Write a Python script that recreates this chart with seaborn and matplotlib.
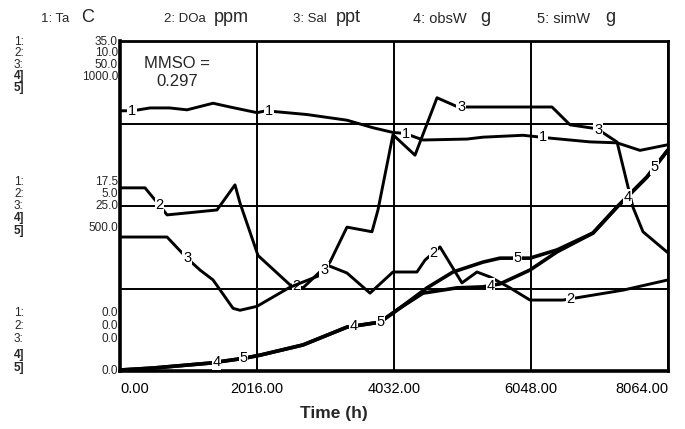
import numpy as np
import pandas as pd
import matplotlib
matplotlib.use("Agg")
import matplotlib.pyplot as plt
import seaborn as sns

# ---------------- data ----------------
ta_time = [0, 190, 441, 730, 986, 1369, 1619, 2016, 2148, 2752, 3340, 3723, 4017,
           4194, 4459, 5106, 5342, 5930, 6328, 6916, 7314, 7652, 8064]
ta_vals = [27.6, 27.6, 27.9, 27.9, 27.7, 28.4, 28.0, 27.4, 27.6, 27.2, 26.6, 25.8, 25.3,
           25.2, 24.5, 24.6, 24.8, 25.0, 24.7, 24.3, 24.2, 23.4, 24.0]

do_time = [0, 368, 589, 692, 986, 1427, 1692, 1766, 2031, 2502, 2693, 3046, 3340, 3679,
           4017, 4370, 4488, 4709, 5032, 5253, 5445, 5739, 6033, 6519, 7402, 8064]
do_vals = [5.55, 5.55, 5.0, 4.73, 4.79, 4.88, 5.64, 5.09, 3.5, 2.61, 2.52, 3.21, 2.97, 2.36,
           3.0, 3.0, 3.36, 3.76, 2.67, 3.0, 2.85, 2.52, 2.15, 2.15, 2.45, 2.76]

sal_time = [0, 692, 986, 1177, 1369, 1663, 1766, 2016, 2502, 2943, 3090, 3340, 3708,
            3796, 4017, 4341, 4665, 4974, 6357, 6622, 7019, 7314, 7549, 7696, 8064]
sal_vals = [20.3, 20.3, 17.1, 15.3, 13.8, 9.5, 9.2, 9.8, 12.7, 14.5, 16.5, 21.8, 21.1,
            24.4, 35.8, 32.7, 41.4, 40.0, 40.0, 37.3, 36.7, 34.7, 24.8, 21.1, 17.9]

obs_time = [0, 486, 1324, 1839, 2060, 2693, 3340, 3826, 4120, 4459, 4959, 5342, 5592,
            6033, 6431, 6960, 7314, 7755, 8064]
obs_vals = [3, 9, 24, 39, 48, 79, 133, 148, 191, 236, 252, 255, 264,
            306, 361, 418, 497, 588, 670]

sim_time = [0, 486, 1324, 1839, 2060, 2693, 3340, 3826, 4120, 4518, 4900, 5342, 5592,
            6033, 6431, 6960, 7314, 7755, 8064]
sim_vals = [3, 9, 24, 39, 48, 79, 133, 148, 191, 252, 300, 330, 342,
            342, 367, 418, 497, 588, 670]

series_names = ["Ta", "DOa", "Sal", "obsW", "simW"]
series_units = ["C", "ppm", "ppt", "g", "g"]
scale_max = [35.0, 10.0, 50.0, 1000.0, 1000.0]
x_ticks = [0, 2016, 4032, 6048, 8064]
x_tick_labels = ["0.00", "2016.00", "4032.00", "6048.00", "8064.00"]
mmso_text = "MMSO =\n0.297"
x_title = "Time (h)"

# ---------------- style ----------------
sns.set_theme(style="white")
plt.rcParams["font.family"] = ["Liberation Sans", "DejaVu Sans"]

W, H = 685, 429
fig = plt.figure(figsize=(W / 100, H / 100), dpi=100)
L, R, T, B = 120, 668, 41, 371
ax = fig.add_axes([L / W, 1 - B / H, (R - L) / W, (B - T) / H])

def fx(px):
    return px / W

def fy(py):
    return 1 - py / H

# base axis (scale of series 1) with grid
ax.set_xlim(0, 8064)
ax.set_ylim(0, scale_max[0])
ax.set_xticks(x_ticks)
ax.set_xticklabels(x_tick_labels, fontsize=10.5)
labs = ax.get_xticklabels()
labs[0].set_horizontalalignment("left")
labs[-1].set_horizontalalignment("right")
ax.set_yticks(np.linspace(0, scale_max[0], 5))
ax.set_yticklabels([])
ax.tick_params(axis="y", length=0)
ax.tick_params(axis="x", direction="inout", length=6, width=1.5, color="black",
               pad=5, labelcolor="black")
ax.grid(True, color="black", lw=1.4)
for side, lw in (("left", 2.6), ("bottom", 2.6), ("top", 2.0), ("right", 2.0)):
    ax.spines[side].set_visible(True)
    ax.spines[side].set_color("black")
    ax.spines[side].set_linewidth(lw)

# one set of y axes per scale (series 4 and 5 share one)
ax_do = ax.twinx()
ax_sal = ax.twinx()
ax_w = ax.twinx()
axes_list = [ax, ax_do, ax_sal, ax_w, ax_w]
for a, m in ((ax_do, scale_max[1]), (ax_sal, scale_max[2]), (ax_w, scale_max[3])):
    a.set_ylim(0, m)
    a.set_xlim(0, 8064)
    a.set_axis_off()

data_list = [(ta_time, ta_vals), (do_time, do_vals), (sal_time, sal_vals),
             (obs_time, obs_vals), (sim_time, sim_vals)]
line_w = [2.1, 2.1, 2.1, 2.6, 2.6]
for i, ((tt, vv), a) in enumerate(zip(data_list, axes_list)):
    df = pd.DataFrame({"time": tt, "value": vv})
    sns.lineplot(data=df, x="time", y="value", ax=a, color="black", lw=line_w[i],
                 sort=False, estimator=None, legend=False)
    a.set_xlabel("")
    a.set_ylabel("")

ax.set_xlabel(x_title, fontsize=12.5, fontweight="bold")
ax.xaxis.set_label_coords((334 - L) / (R - L), -0.105)
ax.set_ylabel("")

# numbered labels along each line (STELLA style)
label_offsets = [175, 580, 990, 1420, 1820]
for i, ((tt, vv), a) in enumerate(zip(data_list, axes_list)):
    for q in range(4):
        t = q * 2016 + label_offsets[i]
        v = np.interp(t, tt, vv)
        a.text(t, v, str(i + 1), ha="center", va="center", fontsize=10.5, color="black",
               bbox=dict(boxstyle="square,pad=0.05", fc="white", ec="none"), zorder=6)

# MMSO annotation
ax.text((177 - L) / (R - L), (B - 73) / (B - T), mmso_text, transform=ax.transAxes,
        ha="center", va="center", fontsize=12, linespacing=1.25)

# header legend
head_x = [41, 164, 293, 413, 537]
unit_x = [81, 214, 336, 480, 605]
for i in range(5):
    small = 9.5 if i < 3 else 10.5
    fig.text(fx(head_x[i]), fy(19), f"{i + 1}: {series_names[i]}", fontsize=small,
             ha="left", va="center")
    fig.text(fx(unit_x[i]), fy(17), series_units[i], fontsize=13, ha="left", va="center")

# left scale labels
def fmt(v):
    return f"{v:.1f}"

groups = [
    # (row y positions for 1..5, fraction of scale, value y positions)
    ([42, 53.5, 65, 76.5, 88], 1.0, [42, 53.5, 65, 76.5]),
    ([182, 194, 206, 218.5, 231], 0.5, [182, 194, 206, 228]),
    ([313, 326, 339.5, 355, 368], 0.0, [313, 326, 339.5, 371]),
]
for rows, frac, vys in groups:
    for k in range(5):
        tag = f"{k + 1}:" if k < 3 else f"{k + 1}]"
        fig.text(fx(14), fy(rows[k]), tag, fontsize=8.5, ha="left", va="center",
                 fontweight="bold" if k >= 3 else "normal")
    for k in range(4):
        fig.text(fx(118), fy(vys[k]), fmt(scale_max[k] * frac), fontsize=8.5,
                 ha="right", va="center")

fig.savefig("out.png", dpi=100, facecolor="white")
